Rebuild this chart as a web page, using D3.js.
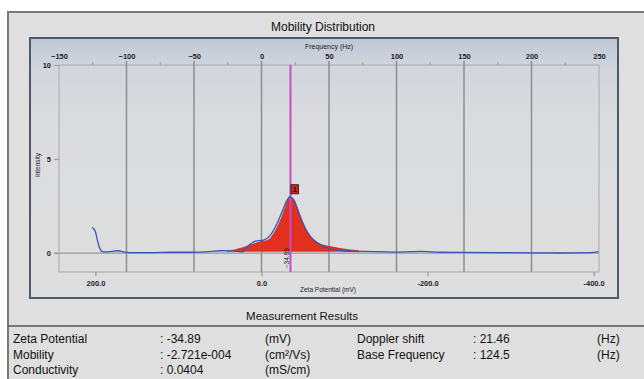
<!DOCTYPE html>
<html><head><meta charset="utf-8">
<script src="https://cdn.jsdelivr.net/npm/d3@7/dist/d3.min.js"></script>
<style>
html,body{margin:0;padding:0;background:#fff;}
svg{display:block;font-family:"Liberation Sans",Arial,sans-serif;}
</style></head>
<body>
<svg id="c" width="644" height="379"></svg>
<script>
// ---- data ----
const chartTitle = "Mobility Distribution";
const tableTitle = "Measurement Results";
const freqTicks = [-150, -100, -50, 0, 50, 100, 150, 200, 250];
const freqGrid = [-100, -50, 0, 50, 100, 150, 200];
const freqMinor = [-125, -75, -25, 25, 75, 125, 175, 225];
const zetaTicks = [200, 0, -200, -400];
const zetaTickLabels = ["200.0", "0.0", "-200.0", "-400.0"];
const intensityTicks = [0, 5, 10];
const dopplerShift = 21.46;
const peakZeta = -34.89;
const peakLabel = "1";
// raw measured curve (blue)
const blueZeta = [204.0, 200.0, 197.2, 194.8, 190.7, 181.9, 173.0, 165.0, 154.2, 133.7, 109.6, 81.9, 67.5, 49.4, 34.9, 23.3, 15.3, 7.2, -2.8, -10.8, -18.9, -24.9, -31.0, -34.1, -38.9, -43.7, -49.0, -55.1, -63.0, -73.1, -83.1, -99.2, -115.3, -122.9, -163.9, -191.6, -215.7, -243.4, -288.0, -356.6, -396.4, -406.0];
const blueIntensity = [1.38, 1.14, 0.61, 0.26, 0.07, 0.08, 0.13, 0.06, 0.03, 0.03, 0.05, 0.05, 0.07, 0.13, 0.12, 0.07, 0.42, 0.64, 0.70, 0.97, 1.59, 2.21, 2.83, 3.00, 2.83, 2.30, 1.67, 1.14, 0.70, 0.40, 0.22, 0.13, 0.10, 0.10, 0.06, 0.10, 0.05, 0.04, 0.03, 0.01, 0.03, 0.08];
// fitted distribution (red fill)
const redZeta = [41.3, 25.3, 13.3, 1.2, -6.9, -14.8, -22.9, -28.9, -34.1, -41.0, -47.0, -55.1, -67.1, -83.1, -99.2, -117.2];
const redIntensity = [0.09, 0.26, 0.44, 0.61, 0.67, 1.06, 1.76, 2.47, 3.00, 2.65, 1.94, 1.14, 0.56, 0.35, 0.22, 0.13];
const redBase = 0.1;
// results table
const resLabelsLeft = ["Zeta Potential", "Mobility", "Conductivity"];
const resValuesLeft = [": -34.89", ": -2.721e-004", ": 0.0404"];
const resUnitsLeft = ["(mV)", "(cm\u00B2/Vs)", "(mS/cm)"];
const resLabelsRight = ["Doppler shift", "Base Frequency"];
const resValuesRight = [": 21.46", ": 124.5"];
const resUnitsRight = ["(Hz)", "(Hz)"];

// ---- drawing ----
const svg = d3.select("#c");
const L = 59, R = 599, T = 65, B = 272;
const ratio = -peakZeta / dopplerShift;
const xF = d3.scaleLinear().domain([-150, 250]).range([L, R]);
const xZ = d3.scaleLinear().domain([150 * ratio, -250 * ratio]).range([L, R]);
const y = d3.scaleLinear().domain([-1, 10]).range([B, T]);

const defs = svg.append("defs");
const g1 = defs.append("linearGradient").attr("id", "pg").attr("x1", 0).attr("y1", 0).attr("x2", 0).attr("y2", 1);
g1.append("stop").attr("offset", "0%").attr("stop-color", "#c0c8d6");
g1.append("stop").attr("offset", "12%").attr("stop-color", "#d2d6dd");
g1.append("stop").attr("offset", "35%").attr("stop-color", "#dbdcde");
g1.append("stop").attr("offset", "100%").attr("stop-color", "#dedede");

// outer frame
svg.append("rect").attr("x", 8).attr("y", 12).attr("width", 660).attr("height", 400)
  .attr("fill", "#dfdfdf").attr("stroke", "#7a7a7a").attr("stroke-width", 2);
svg.append("text").attr("x", 323).attr("y", 31).attr("text-anchor", "middle")
  .attr("font-size", 12).attr("fill", "#111").text(chartTitle);

// plot panel
svg.append("rect").attr("x", 30).attr("y", 38).attr("width", 588).attr("height", 260)
  .attr("fill", "url(#pg)").attr("stroke", "#4b5a69").attr("stroke-width", 2);

// plot border
svg.append("rect").attr("x", L).attr("y", T).attr("width", R - L).attr("height", B - T)
  .attr("fill", "none").attr("stroke", "#a9a9a9").attr("stroke-width", 1);

// vertical gridlines
svg.append("g").selectAll("line").data(freqGrid).join("line")
  .attr("x1", d => xF(d)).attr("x2", d => xF(d)).attr("y1", 61).attr("y2", B)
  .attr("stroke", "#8d8d8d").attr("stroke-width", 1.5);
// minor top ticks
svg.append("g").selectAll("line").data(freqMinor).join("line")
  .attr("x1", d => xF(d)).attr("x2", d => xF(d)).attr("y1", 62).attr("y2", T)
  .attr("stroke", "#9a9a9a").attr("stroke-width", 1);

// top frequency axis labels
const topAx = svg.append("g").attr("transform", `translate(0,${T - 6})`)
  .call(d3.axisTop(xF).tickValues(freqTicks).tickSize(0).tickPadding(0).tickFormat(d3.format("d")));
topAx.select(".domain").remove();
topAx.selectAll("text").attr("font-size", 7.5).attr("fill", "#1b1b2b").attr("font-family", "Liberation Sans, Arial").attr("font-weight", "bold");
svg.append("text").attr("x", 329).attr("y", 49).attr("text-anchor", "middle")
  .attr("font-size", 7).attr("fill", "#1b1b2b").text("Frequency (Hz)");

// bottom zeta axis
const botAx = svg.append("g").attr("transform", `translate(0,${B})`)
  .call(d3.axisBottom(xZ).tickValues(zetaTicks).tickSize(4).tickPadding(5)
    .tickFormat((d, i) => zetaTickLabels[i]));
botAx.select(".domain").remove();
botAx.selectAll("line").attr("stroke", "#8a8a8a");
botAx.selectAll("text").attr("font-size", 7.5).attr("fill", "#1b1b2b").attr("font-family", "Liberation Sans, Arial").attr("font-weight", "bold");
svg.append("text").attr("x", 328).attr("y", 292).attr("text-anchor", "middle")
  .attr("font-size", 6.5).attr("fill", "#1b1b2b").text("Zeta Potential (mV)");

// left intensity axis
const leftAx = svg.append("g").attr("transform", `translate(${L},0)`)
  .call(d3.axisLeft(y).tickValues(intensityTicks).tickSize(5).tickPadding(3));
leftAx.select(".domain").remove();
leftAx.selectAll("line").attr("stroke", "#999");
leftAx.selectAll("text").attr("font-size", 7.5).attr("fill", "#1b1b2b").attr("font-family", "Liberation Sans, Arial").attr("font-weight", "bold");
svg.append("text").attr("transform", "translate(40,165) rotate(-90)").attr("text-anchor", "middle")
  .attr("font-size", 6.5).attr("fill", "#1b1b2b").text("Intensity");

// zero line
svg.append("line").attr("x1", L - 5).attr("x2", R).attr("y1", y(0)).attr("y2", y(0))
  .attr("stroke", "#9a9a9a").attr("stroke-width", 1.2);

// red fitted area
const redData = redZeta.map((z, i) => ({z, v: redIntensity[i]}));
svg.append("path").datum(redData)
  .attr("d", d3.area().x(d => xZ(d.z)).y0(y(redBase)).y1(d => y(d.v)).curve(d3.curveMonotoneX))
  .attr("fill", "#e2301f").attr("stroke", "#c42010").attr("stroke-width", 0.6);

// peak marker line
const px = xZ(peakZeta);
svg.append("line").attr("x1", px).attr("x2", px).attr("y1", T).attr("y2", B)
  .attr("stroke", "#c24fc4").attr("stroke-width", 2);

// blue measured curve
const blueData = blueZeta.map((z, i) => ({z, v: blueIntensity[i]}));
svg.append("path").datum(blueData)
  .attr("d", d3.line().x(d => xZ(d.z)).y(d => y(d.v)).curve(d3.curveMonotoneX))
  .attr("fill", "none").attr("stroke", "#3656b8").attr("stroke-width", 1.3);

// peak label box
const peakY = y(d3.max(redIntensity));
svg.append("rect").attr("x", px + 0.5).attr("y", peakY - 12).attr("width", 7.5).attr("height", 9)
  .attr("fill", "#d8231a").attr("stroke", "#2a2a2a").attr("stroke-width", 1);
svg.append("text").attr("x", px + 4.2).attr("y", peakY - 4.6).attr("text-anchor", "middle")
  .attr("font-size", 7).attr("font-weight", "bold").attr("fill", "#111").text(peakLabel);

// rotated peak value
svg.append("text").attr("transform", `translate(${px - 1.5},${y(0) + 5}) rotate(-90)`)
  .attr("text-anchor", "middle").attr("font-size", 6.5).attr("fill", "#222")
  .text(d3.format(".2f")(peakZeta));

// measurement results
svg.append("text").attr("x", 302).attr("y", 320).attr("text-anchor", "middle")
  .attr("font-size", 11.5).attr("fill", "#111").text(tableTitle);
svg.append("line").attr("x1", 8).attr("x2", 644).attr("y1", 326).attr("y2", 326)
  .attr("stroke", "#555").attr("stroke-width", 1.5);
const rowY = [343, 359, 374];
const tbl = svg.append("g").attr("font-size", 12).attr("fill", "#111");
resLabelsLeft.forEach((t, i) => {
  tbl.append("text").attr("x", 13).attr("y", rowY[i]).text(t);
  tbl.append("text").attr("x", 160).attr("y", rowY[i]).text(resValuesLeft[i]);
  tbl.append("text").attr("x", 265).attr("y", rowY[i]).text(resUnitsLeft[i]);
});
resLabelsRight.forEach((t, i) => {
  tbl.append("text").attr("x", 357).attr("y", rowY[i]).text(t);
  tbl.append("text").attr("x", 473).attr("y", rowY[i]).text(resValuesRight[i]);
  tbl.append("text").attr("x", 597).attr("y", rowY[i]).text(resUnitsRight[i]);
});
</script>
</body></html>
